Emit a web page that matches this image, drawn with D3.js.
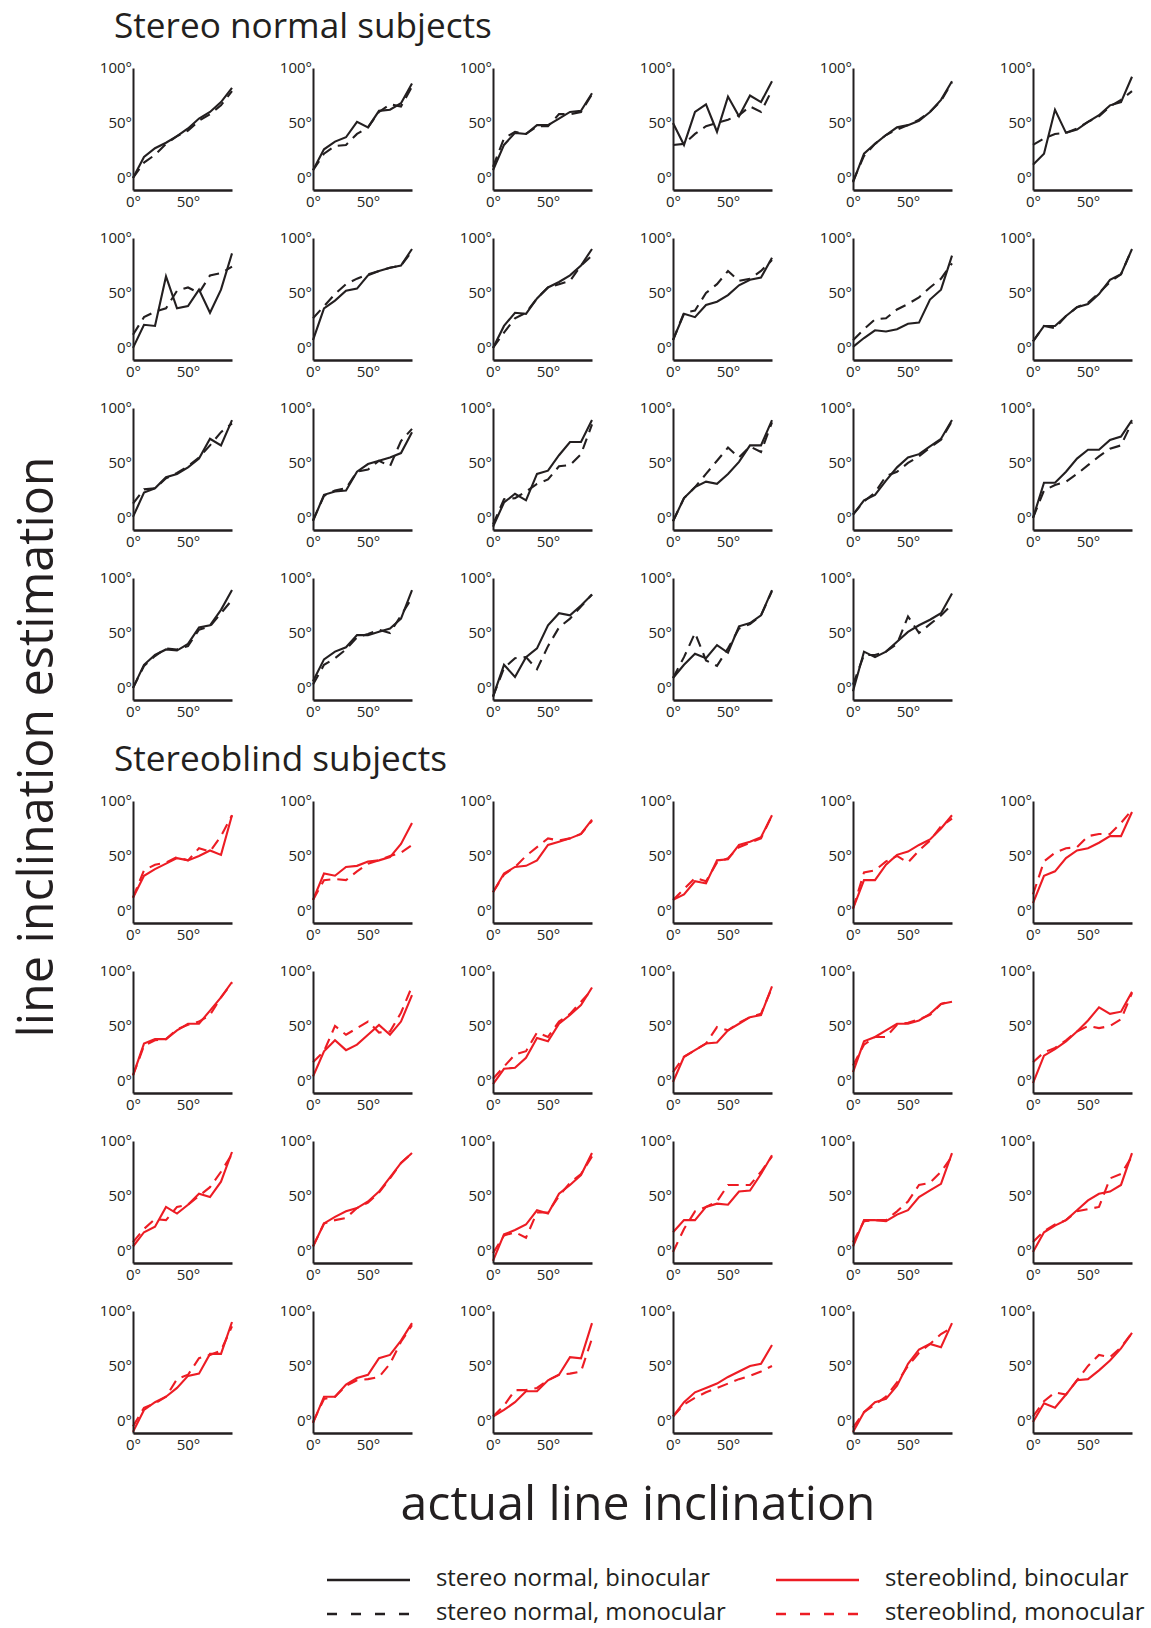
<!DOCTYPE html>
<html><head><meta charset="utf-8">
<script src="https://cdn.jsdelivr.net/npm/d3@7"></script>
<style>
body{margin:0;background:#fff;}
svg{display:block;}
text{font-family:"Open Sans","Noto Sans",sans-serif;fill:#231f20;}
</style></head><body>
<svg id="chart" width="1151" height="1628"></svg>
<script>
// ---------------- data ----------------
const xAngles = [0, 10, 20, 30, 40, 50, 60, 70, 80, 90];
const yTickValues = [0, 50, 100];
const xTickValues = [0, 50];
const groupTitles = ["Stereo normal subjects", "Stereoblind subjects"];
const yAxisTitle = "line inclination estimation";
const xAxisTitle = "actual line inclination";
const legendLabels = ["stereo normal, binocular", "stereo normal, monocular", "stereoblind, binocular", "stereoblind, monocular"];

const normalBinocular = [
  [0, 19, 27, 32, 38, 45, 54, 60, 69, 82],
  [7, 26, 33, 37, 51, 46, 61, 62, 68, 86],
  [7, 30, 41, 40, 48, 48, 54, 60, 61, 77],
  [50, 30, 60, 67, 42, 74, 56, 75, 69, 88],
  [-4, 22, 31, 39, 46, 48, 52, 60, 71, 88],
  [12, 22, 62, 41, 44, 51, 57, 66, 69, 92],
  [0, 21, 20, 65, 36, 38, 53, 32, 53, 86],
  [7, 36, 43, 52, 54, 66, 70, 73, 75, 90],
  [0, 20, 32, 31, 45, 55, 60, 66, 75, 90],
  [7, 31, 28, 39, 42, 48, 57, 62, 64, 82],
  [1, 9, 16, 15, 17, 22, 23, 44, 53, 84],
  [6, 20, 20, 29, 37, 40, 49, 62, 67, 90],
  [1, 23, 27, 37, 40, 46, 54, 72, 66, 89],
  [-3, 21, 24, 25, 42, 49, 52, 55, 59, 78],
  [-8, 14, 22, 16, 40, 43, 57, 69, 69, 89],
  [-3, 18, 28, 33, 31, 40, 51, 66, 66, 89],
  [3, 16, 21, 34, 46, 55, 58, 65, 72, 89],
  [0, 32, 32, 42, 54, 62, 62, 71, 74, 89],
  [0, 21, 30, 35, 34, 40, 55, 57, 71, 89],
  [6, 26, 33, 37, 48, 48, 51, 54, 63, 89],
  [-8, 21, 10, 28, 36, 57, 68, 66, 75, 85],
  [9, 21, 31, 27, 39, 32, 56, 59, 66, 89],
  [-3, 33, 28, 33, 42, 51, 57, 62, 68, 86]
];
const normalMonocular = [
  [0, 14, 21, 31, 38, 43, 52, 58, 66, 79],
  [7, 22, 29, 30, 40, 46, 60, 67, 65, 83],
  [10, 36, 42, 40, 47, 47, 58, 58, 60, 76],
  [30, 31, 40, 47, 50, 53, 57, 65, 60, 80],
  [-3, 20, 31, 39, 44, 48, 53, 60, 70, 87],
  [30, 36, 40, 41, 45, 51, 56, 65, 71, 79],
  [12, 28, 33, 36, 52, 55, 50, 66, 68, 74],
  [27, 38, 49, 58, 63, 67, 70, 73, 75, 88],
  [0, 14, 27, 32, 45, 55, 58, 61, 75, 84],
  [7, 32, 34, 50, 58, 70, 61, 63, 70, 80],
  [7, 17, 26, 27, 35, 40, 46, 55, 63, 77],
  [6, 20, 18, 29, 37, 41, 50, 60, 67, 90],
  [13, 26, 27, 36, 41, 47, 55, 66, 78, 86],
  [-2, 20, 25, 27, 42, 44, 52, 47, 70, 81],
  [-6, 17, 18, 24, 31, 35, 47, 48, 58, 85],
  [-3, 18, 28, 40, 52, 64, 55, 65, 60, 87],
  [3, 15, 23, 38, 42, 50, 56, 64, 71, 88],
  [0, 25, 30, 33, 40, 48, 56, 63, 66, 87],
  [0, 20, 29, 36, 35, 38, 53, 56, 68, 80],
  [3, 21, 27, 35, 46, 49, 53, 50, 66, 82],
  [-8, 18, 27, 28, 17, 38, 55, 63, 74, 85],
  [9, 28, 50, 25, 20, 36, 54, 58, 66, 88],
  [3, 30, 30, 33, 40, 65, 50, 58, 66, 76]
];
const blindBinocular = [
  [12, 32, 38, 43, 48, 46, 50, 55, 51, 87],
  [10, 34, 32, 40, 41, 45, 46, 49, 61, 80],
  [17, 34, 40, 41, 46, 60, 63, 66, 70, 83],
  [10, 15, 27, 25, 46, 47, 60, 63, 67, 87],
  [2, 28, 28, 42, 51, 54, 60, 65, 75, 87],
  [7, 32, 36, 48, 55, 57, 62, 68, 68, 90],
  [5, 34, 38, 38, 46, 52, 52, 64, 76, 90],
  [4, 27, 37, 28, 33, 42, 51, 42, 54, 78],
  [-3, 11, 12, 21, 39, 36, 52, 60, 69, 85],
  [-1, 22, 28, 34, 35, 46, 52, 58, 60, 86],
  [8, 36, 40, 46, 52, 52, 55, 61, 70, 72],
  [-2, 23, 29, 36, 45, 55, 67, 61, 63, 81],
  [4, 17, 22, 40, 34, 42, 52, 49, 63, 90],
  [4, 25, 31, 36, 39, 45, 54, 67, 80, 89],
  [-9, 15, 19, 24, 37, 34, 52, 60, 69, 89],
  [17, 28, 28, 40, 43, 42, 54, 55, 70, 87],
  [4, 28, 28, 27, 33, 37, 49, 55, 61, 89],
  [-1, 17, 23, 28, 37, 46, 52, 54, 60, 89],
  [-10, 10, 17, 22, 30, 41, 43, 61, 61, 90],
  [-2, 22, 22, 33, 39, 42, 57, 60, 73, 89],
  [4, 10, 17, 27, 27, 37, 42, 58, 57, 89],
  [4, 17, 26, 30, 34, 40, 45, 50, 52, 69],
  [-10, 8, 17, 20, 32, 52, 65, 70, 67, 89],
  [-1, 16, 12, 24, 37, 38, 46, 55, 66, 80]
];
const blindMonocular = [
  [12, 37, 42, 44, 49, 46, 57, 54, 68, 87],
  [10, 28, 29, 28, 36, 43, 46, 50, 53, 60],
  [17, 33, 40, 50, 58, 66, 64, 66, 70, 82],
  [10, 20, 30, 27, 44, 48, 58, 62, 66, 87],
  [2, 35, 37, 45, 50, 44, 55, 64, 77, 84],
  [15, 45, 53, 57, 58, 68, 70, 70, 80, 92],
  [5, 32, 37, 38, 47, 51, 54, 60, 76, 89],
  [17, 27, 50, 42, 48, 54, 44, 45, 62, 86],
  [2, 13, 24, 27, 44, 40, 54, 61, 72, 83],
  [8, 22, 28, 34, 49, 46, 53, 58, 61, 85],
  [14, 33, 40, 40, 51, 53, 56, 60, 70, 73],
  [17, 26, 30, 37, 45, 50, 48, 50, 56, 80],
  [8, 20, 29, 28, 40, 42, 50, 58, 72, 88],
  [4, 25, 28, 30, 39, 44, 53, 66, 80, 89],
  [-2, 14, 17, 12, 35, 35, 50, 62, 70, 86],
  [-1, 20, 36, 40, 45, 60, 60, 60, 72, 86],
  [8, 27, 28, 28, 36, 45, 60, 62, 72, 86],
  [8, 18, 24, 28, 36, 38, 40, 66, 70, 86],
  [-5, 12, 16, 22, 38, 42, 57, 60, 64, 86],
  [-1, 20, 22, 32, 37, 38, 40, 52, 72, 87],
  [4, 14, 28, 28, 30, 37, 42, 43, 45, 75],
  [4, 15, 21, 26, 30, 34, 38, 41, 45, 50],
  [-6, 8, 15, 22, 35, 50, 62, 70, 79, 85],
  [4, 18, 26, 24, 37, 50, 60, 58, 67, 80]
];

// ---------------- layout ----------------
const INK = "#231f20", RED = "#ed1c24";
const COL_X0 = 133, COL_STEP = 180, PANEL_W = 99, PANEL_H = 122;
const normalRowTops = [68, 238, 408, 578];
const blindRowTops = [801, 971, 1141, 1311];

const svg = d3.select("#chart");

function fitWidth(sel, target) {
  const w = sel.node().getComputedTextLength();
  const fs = parseFloat(sel.attr("font-size"));
  sel.attr("font-size", (fs * target / w).toFixed(2));
}

function drawPanel(x0, yTop, solid, dashed, color) {
  const g = svg.append("g");
  const x = d3.scaleLinear().domain([0, 90]).range([x0, x0 + PANEL_W]);
  const y = d3.scaleLinear().domain([-11, 100]).range([yTop + PANEL_H, yTop]);
  const line = d3.line().x((d, i) => x(xAngles[i])).y(d => y(d));

  g.append("path").datum(dashed).attr("d", line)
    .attr("fill", "none").attr("stroke", color).attr("stroke-width", 2.1)
    .attr("stroke-dasharray", "11,7");
  g.append("path").datum(solid).attr("d", line)
    .attr("fill", "none").attr("stroke", color).attr("stroke-width", 2.1);

  const ya = g.append("g").attr("transform", `translate(${x0},0)`)
    .call(d3.axisLeft(y).tickValues(yTickValues).tickFormat(d => d + "°").tickSize(0).tickSizeOuter(0).tickPadding(1));
  const xa = g.append("g").attr("transform", `translate(0,${yTop + PANEL_H})`)
    .call(d3.axisBottom(x).tickValues(xTickValues).tickFormat(d => d + "°").tickSize(0).tickSizeOuter(0).tickPadding(6));
  [ya, xa].forEach(a => {
    a.attr("font-family", null).attr("font-size", null);
    a.selectAll("text").attr("font-size", 15).attr("fill", INK);
  });
  ya.select(".domain").attr("stroke", INK).attr("stroke-width", 2);
  xa.select(".domain").attr("stroke", INK).attr("stroke-width", 2.7);
}

normalBinocular.forEach((s, i) => {
  const r = Math.floor(i / 6), c = i % 6;
  drawPanel(COL_X0 + c * COL_STEP, normalRowTops[r], s, normalMonocular[i], INK);
});
blindBinocular.forEach((s, i) => {
  const r = Math.floor(i / 6), c = i % 6;
  drawPanel(COL_X0 + c * COL_STEP, blindRowTops[r], s, blindMonocular[i], RED);
});

// titles
const t1 = svg.append("text").attr("x", 114).attr("y", 38).attr("font-size", 30).text(groupTitles[0]);
fitWidth(t1, 378);
svg.append("text").attr("x", 114).attr("y", 771).attr("font-size", t1.attr("font-size")).text(groupTitles[1]);

// axis titles
const yt = svg.append("text").attr("transform", "translate(53,747) rotate(-90)")
  .attr("text-anchor", "middle").attr("font-size", 48).text(yAxisTitle);
fitWidth(yt, 581);
const xt = svg.append("text").attr("x", 638).attr("y", 1520)
  .attr("text-anchor", "middle").attr("font-size", 40).text(xAxisTitle);
fitWidth(xt, 475);

// legend
const legendItems = [
  {label: legendLabels[0], color: INK, dash: null, x: 327, y: 1580},
  {label: legendLabels[1], color: INK, dash: "10,14", x: 327, y: 1614},
  {label: legendLabels[2], color: RED, dash: null, x: 776, y: 1580},
  {label: legendLabels[3], color: RED, dash: "10,14", x: 776, y: 1614}
];
let legendFont = null;
legendItems.forEach((it, k) => {
  svg.append("line").attr("x1", it.x).attr("x2", it.x + 83).attr("y1", it.y).attr("y2", it.y)
    .attr("stroke", it.color).attr("stroke-width", 2.5).attr("stroke-dasharray", it.dash);
  const t = svg.append("text").attr("x", it.x + 109).attr("y", it.y + 6).attr("font-size", legendFont || 21).text(it.label);
  if (k === 0) { fitWidth(t, 274); legendFont = t.attr("font-size"); }
});
</script>
</body></html>
